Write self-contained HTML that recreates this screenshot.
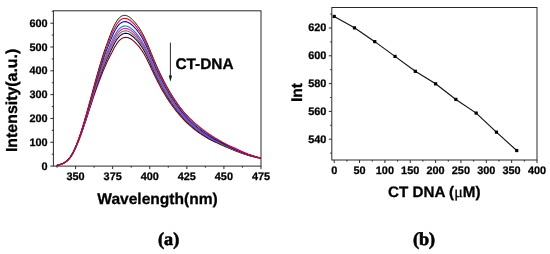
<!DOCTYPE html>
<html><head><meta charset="utf-8"><title>Fluorescence quenching by CT-DNA</title>
<style>
html,body{margin:0;padding:0;background:#fff;}
svg{display:block;will-change:transform;}
text{fill:#000;text-rendering:geometricPrecision;}
.t{font-family:"Liberation Sans",Arial,sans-serif;font-weight:bold;font-size:10.9px;stroke:#000;stroke-width:0.25px;}
.b{font-family:"Liberation Sans",Arial,sans-serif;font-weight:bold;font-size:15px;stroke:#000;stroke-width:0.3px;}
.s{font-family:"Liberation Serif","Times New Roman",serif;font-weight:bold;font-size:18.2px;stroke:#000;stroke-width:0.6px;}
</style></head>
<body>
<svg width="550" height="254" viewBox="0 0 550 254">
<rect width="550" height="254" fill="#fff"/>
<rect x="53.4" y="10.8" width="207.6" height="155.3" fill="none" stroke="#2a2a2a" stroke-width="1"/>
<path d="M50.4,166.10H53.4M51.8,154.19H53.4M50.4,142.28H53.4M51.8,130.37H53.4M50.4,118.46H53.4M51.8,106.55H53.4M50.4,94.64H53.4M51.8,82.73H53.4M50.4,70.82H53.4M51.8,58.91H53.4M50.4,47.00H53.4M51.8,35.09H53.4M50.4,23.18H53.4M51.8,11.27H53.4M57.06,166.1v1.6M75.60,166.1v3.0M94.14,166.1v1.6M112.68,166.1v3.0M131.22,166.1v1.6M149.76,166.1v3.0M168.30,166.1v1.6M186.84,166.1v3.0M205.38,166.1v1.6M223.92,166.1v3.0M242.46,166.1v1.6M261.00,166.1v3.0" stroke="#2a2a2a" stroke-width="1" fill="none"/>
<path d="M56.4,165.69 L57.4,165.39 L58.4,165.09 L59.4,164.79 L60.4,164.48 L61.4,164.13 L62.4,163.73 L63.4,163.27 L64.4,162.74 L65.4,162.11 L66.4,161.38 L67.4,160.53 L68.5,159.55 L69.5,158.42 L70.5,157.13 L71.5,155.66 L72.5,154.02 L73.5,152.20 L74.5,150.22 L75.5,148.10 L76.5,145.87 L77.5,143.51 L78.5,141.03 L79.6,138.43 L80.6,135.74 L81.6,132.95 L82.6,130.07 L83.6,127.13 L84.6,124.12 L85.7,121.06 L86.7,117.96 L87.7,114.83 L88.7,111.68 L89.7,108.52 L90.8,105.37 L91.8,102.27 L92.8,99.18 L93.8,96.13 L94.9,93.12 L95.9,90.16 L96.9,87.26 L98.0,84.42 L99.0,81.66 L100.0,78.99 L101.1,76.33 L102.1,73.65 L103.1,71.07 L104.2,68.60 L105.2,66.23 L106.2,63.95 L107.2,61.74 L108.3,59.59 L109.3,57.48 L110.3,55.41 L111.4,53.38 L112.4,51.43 L113.4,49.49 L114.4,47.55 L115.5,45.78 L116.5,44.16 L117.5,42.72 L118.5,41.45 L119.5,40.35 L120.6,39.43 L121.6,38.69 L122.6,38.12 L123.6,37.71 L124.6,37.47 L125.6,37.37 L126.6,37.42 L127.6,37.59 L128.6,37.89 L129.6,38.31 L130.6,38.83 L131.6,39.45 L132.5,40.17 L133.5,40.96 L134.5,41.83 L135.5,42.76 L136.5,43.75 L137.4,44.80 L138.4,45.93 L139.4,47.12 L140.4,48.39 L141.3,49.73 L142.3,51.16 L143.3,52.68 L144.3,54.29 L145.2,55.99 L146.2,57.79 L147.2,59.69 L148.1,61.65 L149.1,63.68 L150.1,65.74 L151.0,67.83 L152.0,69.93 L153.0,72.01 L153.9,74.07 L154.9,76.09 L155.9,78.07 L156.9,80.01 L157.8,81.92 L158.8,83.78 L159.8,85.61 L160.7,87.40 L161.7,89.15 L162.7,90.86 L163.7,92.54 L164.7,94.19 L165.6,95.80 L166.6,97.37 L167.6,98.91 L168.6,100.42 L169.6,101.89 L170.6,103.33 L171.5,104.74 L172.5,106.11 L173.5,107.46 L174.5,108.77 L175.5,110.05 L176.5,111.31 L177.5,112.53 L178.5,113.72 L179.5,114.89 L180.5,116.03 L181.5,117.14 L182.4,118.22 L183.4,119.28 L184.4,120.30 L185.4,121.31 L186.4,122.29 L187.4,123.24 L188.4,124.17 L189.4,125.08 L190.4,125.96 L191.4,126.82 L192.4,127.66 L193.4,128.48 L194.4,129.28 L195.4,130.06 L196.4,130.82 L197.4,131.56 L198.4,132.28 L199.4,132.99 L200.4,133.68 L201.4,134.35 L202.4,135.01 L203.4,135.65 L204.4,136.28 L205.4,136.90 L206.4,137.50 L207.4,138.09 L208.4,138.66 L209.4,139.23 L210.4,139.76 L211.4,140.26 L212.4,140.75 L213.4,141.23 L214.4,141.70 L215.4,142.17 L216.4,142.63 L217.4,143.09 L218.4,143.55 L219.4,144.00 L220.4,144.45 L221.4,144.89 L222.4,145.34 L223.4,145.78 L224.4,146.22 L225.4,146.65 L226.4,147.08 L227.4,147.51 L228.4,147.94 L229.4,148.36 L230.4,148.78 L231.4,149.20 L232.4,149.61 L233.4,150.01 L234.4,150.41 L235.4,150.81 L236.4,151.20 L237.4,151.59 L238.4,151.97 L239.4,152.34 L240.4,152.71 L241.4,153.07 L242.4,153.43 L243.4,153.77 L244.4,154.11 L245.4,154.44 L246.4,154.75 L247.4,155.05 L248.4,155.34 L249.4,155.63 L250.4,155.91 L251.4,156.18 L252.4,156.44 L253.4,156.70 L254.4,156.94 L255.4,157.18 L256.4,157.41 L257.4,157.62 L258.4,157.83 L259.4,158.03 L261.0,158.32" stroke="#800000" stroke-width="1.08" fill="none" stroke-linejoin="round"/>
<path d="M56.4,165.69 L57.4,165.38 L58.4,165.09 L59.4,164.78 L60.4,164.47 L61.4,164.11 L62.4,163.71 L63.4,163.25 L64.4,162.71 L65.4,162.08 L66.4,161.35 L67.4,160.49 L68.4,159.50 L69.4,158.36 L70.5,157.06 L71.5,155.58 L72.5,153.92 L73.5,152.08 L74.5,150.08 L75.5,147.94 L76.5,145.68 L77.5,143.29 L78.5,140.77 L79.5,138.13 L80.5,135.38 L81.6,132.54 L82.6,129.61 L83.6,126.60 L84.6,123.53 L85.6,120.40 L86.6,117.22 L87.7,114.01 L88.7,110.77 L89.7,107.52 L90.7,104.28 L91.7,101.06 L92.8,97.87 L93.8,94.70 L94.8,91.56 L95.8,88.48 L96.9,85.44 L97.9,82.47 L98.9,79.57 L99.9,76.76 L101.0,73.97 L102.0,71.18 L103.0,68.49 L104.0,65.90 L105.1,63.42 L106.1,61.03 L107.1,58.71 L108.2,56.45 L109.2,54.24 L110.2,52.05 L111.2,49.90 L112.3,47.84 L113.3,45.81 L114.3,43.81 L115.3,41.98 L116.3,40.32 L117.3,38.83 L118.4,37.52 L119.4,36.39 L120.4,35.43 L121.4,34.67 L122.4,34.08 L123.4,33.66 L124.4,33.41 L125.4,33.31 L126.4,33.36 L127.4,33.54 L128.4,33.85 L129.4,34.28 L130.4,34.82 L131.4,35.46 L132.4,36.19 L133.4,37.01 L134.4,37.91 L135.3,38.87 L136.3,39.89 L137.3,40.98 L138.3,42.13 L139.3,43.36 L140.2,44.67 L141.2,46.06 L142.2,47.54 L143.2,49.10 L144.1,50.76 L145.1,52.52 L146.1,54.38 L147.1,56.33 L148.0,58.36 L149.0,60.45 L150.0,62.58 L150.9,64.73 L151.9,66.90 L152.9,69.05 L153.9,71.17 L154.8,73.26 L155.8,75.30 L156.8,77.30 L157.8,79.26 L158.7,81.19 L159.7,83.07 L160.7,84.92 L161.7,86.72 L162.7,88.49 L163.6,90.23 L164.6,91.92 L165.6,93.58 L166.6,95.20 L167.6,96.79 L168.6,98.35 L169.5,99.87 L170.5,101.35 L171.5,102.80 L172.5,104.22 L173.5,105.61 L174.5,106.97 L175.5,108.29 L176.5,109.58 L177.5,110.84 L178.5,112.08 L179.5,113.28 L180.5,114.45 L181.4,115.60 L182.4,116.71 L183.4,117.80 L184.4,118.86 L185.4,119.90 L186.4,120.91 L187.4,121.89 L188.4,122.85 L189.4,123.79 L190.4,124.70 L191.4,125.59 L192.4,126.45 L193.4,127.30 L194.4,128.12 L195.4,128.93 L196.4,129.71 L197.4,130.47 L198.4,131.22 L199.4,131.95 L200.4,132.66 L201.4,133.35 L202.4,134.03 L203.4,134.70 L204.4,135.34 L205.4,135.98 L206.4,136.60 L207.4,137.21 L208.4,137.80 L209.4,138.39 L210.4,138.94 L211.4,139.46 L212.4,139.98 L213.4,140.48 L214.4,140.98 L215.4,141.47 L216.4,141.96 L217.4,142.44 L218.4,142.92 L219.4,143.39 L220.4,143.86 L221.4,144.33 L222.4,144.79 L223.4,145.25 L224.4,145.71 L225.4,146.16 L226.4,146.62 L227.4,147.06 L228.4,147.51 L229.4,147.95 L230.4,148.38 L231.4,148.81 L232.4,149.24 L233.4,149.66 L234.4,150.08 L235.4,150.49 L236.4,150.89 L237.4,151.29 L238.4,151.69 L239.4,152.07 L240.4,152.45 L241.4,152.83 L242.4,153.19 L243.4,153.55 L244.4,153.90 L245.4,154.24 L246.4,154.56 L247.4,154.87 L248.4,155.18 L249.4,155.48 L250.4,155.77 L251.4,156.05 L252.4,156.32 L253.4,156.59 L254.4,156.84 L255.4,157.09 L256.4,157.32 L257.4,157.55 L258.4,157.76 L259.4,157.96 L261.0,158.27" stroke="#000080" stroke-width="1.08" fill="none" stroke-linejoin="round"/>
<path d="M56.4,165.69 L57.4,165.38 L58.4,165.08 L59.4,164.78 L60.4,164.46 L61.4,164.10 L62.4,163.70 L63.4,163.24 L64.4,162.70 L65.4,162.06 L66.4,161.33 L67.4,160.47 L68.4,159.47 L69.4,158.32 L70.4,157.01 L71.5,155.52 L72.5,153.86 L73.5,152.01 L74.5,150.00 L75.5,147.85 L76.5,145.57 L77.5,143.15 L78.5,140.61 L79.5,137.94 L80.5,135.16 L81.5,132.29 L82.5,129.32 L83.6,126.28 L84.6,123.16 L85.6,119.99 L86.6,116.77 L87.6,113.50 L88.6,110.22 L89.6,106.91 L90.7,103.60 L91.7,100.32 L92.7,97.06 L93.7,93.81 L94.7,90.60 L95.8,87.44 L96.8,84.32 L97.8,81.27 L98.8,78.28 L99.8,75.38 L100.9,72.51 L101.9,69.65 L102.9,66.89 L103.9,64.24 L105.0,61.69 L106.0,59.23 L107.0,56.84 L108.0,54.52 L109.0,52.23 L110.1,49.97 L111.1,47.76 L112.1,45.63 L113.1,43.54 L114.1,41.50 L115.2,39.64 L116.2,37.94 L117.2,36.43 L118.2,35.09 L119.2,33.94 L120.2,32.97 L121.2,32.18 L122.2,31.59 L123.2,31.16 L124.2,30.90 L125.2,30.80 L126.2,30.85 L127.2,31.03 L128.2,31.35 L129.2,31.79 L130.2,32.34 L131.2,32.99 L132.2,33.74 L133.2,34.57 L134.2,35.48 L135.2,36.46 L136.2,37.51 L137.1,38.61 L138.1,39.79 L139.1,41.05 L140.1,42.38 L141.1,43.79 L142.1,45.30 L143.0,46.89 L144.0,48.58 L145.0,50.37 L146.0,52.27 L146.9,54.26 L147.9,56.33 L148.9,58.45 L149.9,60.63 L150.9,62.82 L151.8,65.02 L152.8,67.22 L153.8,69.38 L154.8,71.50 L155.7,73.58 L156.7,75.62 L157.7,77.62 L158.7,79.58 L159.7,81.50 L160.6,83.38 L161.6,85.23 L162.6,87.03 L163.6,88.79 L164.6,90.52 L165.6,92.21 L166.6,93.87 L167.5,95.49 L168.5,97.07 L169.5,98.62 L170.5,100.13 L171.5,101.61 L172.5,103.06 L173.5,104.47 L174.5,105.85 L175.5,107.20 L176.5,108.52 L177.5,109.80 L178.5,111.06 L179.4,112.28 L180.4,113.48 L181.4,114.64 L182.4,115.78 L183.4,116.89 L184.4,117.97 L185.4,119.03 L186.4,120.06 L187.4,121.06 L188.4,122.04 L189.4,122.99 L190.4,123.92 L191.4,124.82 L192.4,125.71 L193.4,126.57 L194.4,127.41 L195.4,128.23 L196.4,129.03 L197.4,129.80 L198.4,130.56 L199.4,131.31 L200.4,132.03 L201.4,132.74 L202.4,133.43 L203.4,134.11 L204.4,134.77 L205.4,135.41 L206.4,136.04 L207.4,136.66 L208.4,137.27 L209.4,137.86 L210.4,138.43 L211.4,138.97 L212.4,139.50 L213.4,140.02 L214.4,140.54 L215.4,141.04 L216.4,141.54 L217.4,142.04 L218.4,142.53 L219.4,143.02 L220.4,143.50 L221.4,143.98 L222.4,144.45 L223.4,144.93 L224.4,145.40 L225.4,145.86 L226.4,146.33 L227.4,146.79 L228.4,147.24 L229.4,147.69 L230.4,148.14 L231.4,148.58 L232.4,149.01 L233.4,149.44 L234.4,149.87 L235.4,150.29 L236.4,150.70 L237.4,151.11 L238.4,151.51 L239.4,151.91 L240.4,152.29 L241.4,152.67 L242.4,153.05 L243.4,153.41 L244.4,153.77 L245.4,154.12 L246.4,154.45 L247.4,154.77 L248.4,155.08 L249.4,155.39 L250.4,155.68 L251.4,155.97 L252.4,156.25 L253.4,156.52 L254.4,156.78 L255.4,157.03 L256.4,157.27 L257.4,157.50 L258.4,157.72 L259.4,157.93 L261.0,158.23" stroke="#808000" stroke-width="1.08" fill="none" stroke-linejoin="round"/>
<path d="M56.4,165.69 L57.4,165.38 L58.4,165.08 L59.4,164.77 L60.4,164.45 L61.4,164.10 L62.4,163.69 L63.4,163.23 L64.4,162.68 L65.4,162.05 L66.4,161.30 L67.4,160.44 L68.4,159.44 L69.4,158.29 L70.4,156.97 L71.4,155.47 L72.4,153.80 L73.5,151.94 L74.5,149.92 L75.5,147.76 L76.5,145.46 L77.5,143.02 L78.5,140.45 L79.5,137.76 L80.5,134.95 L81.5,132.05 L82.5,129.05 L83.5,125.96 L84.5,122.81 L85.5,119.59 L86.6,116.33 L87.6,113.02 L88.6,109.68 L89.6,106.31 L90.6,102.95 L91.6,99.61 L92.6,96.27 L93.7,92.96 L94.7,89.68 L95.7,86.44 L96.7,83.24 L97.7,80.11 L98.7,77.04 L99.8,74.05 L100.8,71.11 L101.8,68.18 L102.8,65.36 L103.8,62.64 L104.8,60.02 L105.9,57.50 L106.9,55.05 L107.9,52.65 L108.9,50.30 L109.9,47.98 L111.0,45.70 L112.0,43.50 L113.0,41.36 L114.0,39.28 L115.0,37.38 L116.0,35.66 L117.0,34.11 L118.0,32.75 L119.1,31.58 L120.1,30.59 L121.1,29.80 L122.1,29.19 L123.1,28.76 L124.1,28.49 L125.1,28.39 L126.1,28.44 L127.1,28.63 L128.1,28.95 L129.1,29.39 L130.1,29.95 L131.1,30.62 L132.1,31.38 L133.0,32.23 L134.0,33.15 L135.0,34.15 L136.0,35.21 L137.0,36.34 L138.0,37.54 L139.0,38.82 L140.0,40.17 L140.9,41.61 L141.9,43.14 L142.9,44.77 L143.9,46.49 L144.9,48.31 L145.9,50.24 L146.8,52.26 L147.8,54.37 L148.8,56.54 L149.8,58.74 L150.8,60.98 L151.7,63.22 L152.7,65.45 L153.7,67.66 L154.7,69.82 L155.7,71.94 L156.7,74.01 L157.6,76.05 L158.6,78.04 L159.6,80.00 L160.6,81.91 L161.6,83.78 L162.6,85.62 L163.6,87.42 L164.5,89.18 L165.5,90.90 L166.5,92.58 L167.5,94.23 L168.5,95.84 L169.5,97.42 L170.5,98.96 L171.5,100.46 L172.5,101.93 L173.5,103.37 L174.5,104.78 L175.5,106.15 L176.5,107.49 L177.4,108.80 L178.4,110.08 L179.4,111.33 L180.4,112.54 L181.4,113.73 L182.4,114.89 L183.4,116.02 L184.4,117.12 L185.4,118.19 L186.4,119.24 L187.4,120.26 L188.4,121.25 L189.4,122.22 L190.4,123.17 L191.4,124.09 L192.4,124.99 L193.4,125.87 L194.4,126.72 L195.4,127.55 L196.4,128.37 L197.4,129.16 L198.4,129.93 L199.4,130.69 L200.4,131.43 L201.4,132.15 L202.4,132.85 L203.4,133.54 L204.4,134.21 L205.4,134.87 L206.4,135.51 L207.4,136.14 L208.4,136.76 L209.4,137.36 L210.4,137.95 L211.4,138.50 L212.4,139.04 L213.4,139.58 L214.4,140.11 L215.4,140.57 L216.4,140.94 L217.4,141.31 L218.4,141.68 L219.4,142.05 L220.4,142.42 L221.4,142.80 L222.4,143.17 L223.4,143.56 L224.4,143.94 L225.4,144.32 L226.4,144.71 L227.4,145.10 L228.4,145.49 L229.4,145.88 L230.4,146.27 L231.4,146.66 L232.4,147.05 L233.4,147.44 L234.4,147.82 L235.4,148.26 L236.4,148.78 L237.4,149.29 L238.4,149.78 L239.4,150.27 L240.4,150.75 L241.4,151.21 L242.4,151.67 L243.4,152.11 L244.4,152.55 L245.4,152.97 L246.4,153.37 L247.4,153.76 L248.4,154.14 L249.4,154.50 L250.4,154.87 L251.4,155.26 L252.4,155.63 L253.4,155.98 L254.4,156.32 L255.4,156.65 L256.4,156.96 L257.4,157.25 L258.4,157.54 L259.4,157.80 L261.0,158.20" stroke="#ff00ff" stroke-width="1.08" fill="none" stroke-linejoin="round"/>
<path d="M56.4,165.69 L57.4,165.38 L58.4,165.07 L59.4,164.77 L60.4,164.45 L61.4,164.09 L62.4,163.68 L63.4,163.21 L64.4,162.67 L65.4,162.03 L66.4,161.28 L67.4,160.41 L68.4,159.41 L69.4,158.25 L70.4,156.93 L71.4,155.42 L72.4,153.74 L73.4,151.88 L74.4,149.85 L75.4,147.66 L76.5,145.35 L77.5,142.89 L78.5,140.30 L79.5,137.58 L80.5,134.75 L81.5,131.81 L82.5,128.77 L83.5,125.66 L84.5,122.46 L85.5,119.20 L86.5,115.89 L87.5,112.53 L88.5,109.14 L89.5,105.73 L90.6,102.31 L91.6,98.90 L92.6,95.50 L93.6,92.12 L94.6,88.76 L95.6,85.45 L96.6,82.18 L97.6,78.96 L98.7,75.81 L99.7,72.74 L100.7,69.72 L101.7,66.73 L102.7,63.84 L103.7,61.05 L104.7,58.37 L105.8,55.78 L106.8,53.27 L107.8,50.81 L108.8,48.39 L109.8,46.00 L110.8,43.65 L111.8,41.39 L112.8,39.19 L113.8,37.08 L114.9,35.15 L115.9,33.39 L116.9,31.82 L117.9,30.44 L118.9,29.24 L119.9,28.24 L120.9,27.43 L121.9,26.81 L122.9,26.37 L123.9,26.11 L124.9,26.00 L125.9,26.05 L126.9,26.24 L127.9,26.57 L128.9,27.02 L129.9,27.59 L130.9,28.27 L131.9,29.04 L132.9,29.91 L133.9,30.85 L134.9,31.86 L135.9,32.94 L136.8,34.09 L137.8,35.31 L138.8,36.61 L139.8,37.99 L140.8,39.45 L141.8,41.01 L142.8,42.66 L143.8,44.41 L144.8,46.27 L145.7,48.23 L146.7,50.29 L147.7,52.43 L148.7,54.64 L149.7,56.88 L150.7,59.16 L151.7,61.44 L152.6,63.71 L153.6,65.95 L154.6,68.15 L155.6,70.30 L156.6,72.42 L157.6,74.49 L158.6,76.52 L159.6,78.50 L160.5,80.45 L161.5,82.36 L162.5,84.22 L163.5,86.05 L164.5,87.84 L165.5,89.59 L166.5,91.31 L167.5,92.98 L168.5,94.62 L169.5,96.23 L170.5,97.79 L171.5,99.33 L172.5,100.82 L173.5,102.29 L174.4,103.72 L175.4,105.11 L176.4,106.48 L177.4,107.81 L178.4,109.11 L179.4,110.38 L180.4,111.62 L181.4,112.82 L182.4,114.00 L183.4,115.15 L184.4,116.27 L185.4,117.36 L186.4,118.43 L187.4,119.47 L188.4,120.48 L189.4,121.46 L190.4,122.43 L191.4,123.36 L192.4,124.28 L193.4,125.17 L194.4,126.04 L195.4,126.89 L196.4,127.71 L197.4,128.52 L198.4,129.31 L199.4,130.08 L200.4,130.83 L201.4,131.56 L202.4,132.28 L203.4,132.98 L204.4,133.66 L205.4,134.33 L206.4,134.98 L207.4,135.62 L208.4,136.25 L209.4,136.87 L210.4,137.46 L211.4,138.03 L212.4,138.59 L213.4,139.14 L214.4,139.69 L215.4,140.22 L216.4,140.75 L217.4,141.27 L218.4,141.79 L219.4,142.30 L220.4,142.81 L221.4,143.31 L222.4,143.81 L223.4,144.31 L224.4,144.80 L225.4,145.29 L226.4,145.77 L227.4,146.25 L228.4,146.73 L229.4,147.20 L230.4,147.67 L231.4,148.13 L232.4,148.58 L233.4,149.03 L234.4,149.47 L235.4,149.91 L236.4,150.34 L237.4,150.76 L238.4,151.18 L239.4,151.59 L240.4,151.99 L241.4,152.38 L242.4,152.77 L243.4,153.15 L244.4,153.52 L245.4,153.88 L246.4,154.22 L247.4,154.56 L248.4,154.89 L249.4,155.21 L250.4,155.52 L251.4,155.82 L252.4,156.11 L253.4,156.39 L254.4,156.66 L255.4,156.92 L256.4,157.17 L257.4,157.41 L258.4,157.63 L259.4,157.85 L261.0,158.17" stroke="#009090" stroke-width="1.08" fill="none" stroke-linejoin="round"/>
<path d="M56.4,165.68 L57.4,165.37 L58.4,165.06 L59.4,164.75 L60.4,164.42 L61.4,164.05 L62.4,163.64 L63.4,163.16 L64.4,162.60 L65.4,161.95 L66.4,161.19 L67.4,160.30 L68.4,159.27 L69.4,158.09 L70.4,156.74 L71.4,155.20 L72.4,153.48 L73.4,151.58 L74.4,149.50 L75.4,147.26 L76.4,144.86 L77.4,142.31 L78.4,139.61 L79.4,136.78 L80.4,133.82 L81.4,130.75 L82.4,127.56 L83.4,124.28 L84.4,120.91 L85.4,117.47 L86.4,113.96 L87.4,110.39 L88.4,106.78 L89.4,103.13 L90.4,99.45 L91.4,95.76 L92.4,92.07 L93.4,88.37 L94.4,84.70 L95.4,81.05 L96.4,77.44 L97.4,73.87 L98.4,70.36 L99.4,66.92 L100.4,63.55 L101.4,60.27 L102.4,57.09 L103.4,54.02 L104.4,51.05 L105.4,48.17 L106.4,45.37 L107.4,42.62 L108.4,39.91 L109.4,37.23 L110.4,34.58 L111.4,32.02 L112.4,29.59 L113.4,27.32 L114.4,25.23 L115.4,23.35 L116.4,21.66 L117.4,20.17 L118.4,18.88 L119.4,17.80 L120.4,16.93 L121.4,16.27 L122.4,15.79 L123.4,15.51 L124.4,15.39 L125.4,15.44 L126.4,15.65 L127.4,16.00 L128.4,16.49 L129.4,17.10 L130.4,17.83 L131.4,18.66 L132.4,19.59 L133.4,20.61 L134.4,21.70 L135.4,22.86 L136.4,24.10 L137.4,25.41 L138.4,26.81 L139.4,28.29 L140.4,29.87 L141.4,31.54 L142.4,33.32 L143.4,35.20 L144.4,37.20 L145.4,39.31 L146.4,41.53 L147.4,43.83 L148.4,46.20 L149.4,48.62 L150.4,51.06 L151.4,53.52 L152.4,55.96 L153.4,58.37 L154.4,60.74 L155.4,63.05 L156.4,65.33 L157.4,67.56 L158.4,69.74 L159.4,71.88 L160.4,73.97 L161.4,76.02 L162.4,78.03 L163.4,80.00 L164.4,81.92 L165.4,83.81 L166.4,85.65 L167.4,87.45 L168.4,89.22 L169.4,90.94 L170.4,92.63 L171.4,94.28 L172.4,95.89 L173.4,97.46 L174.4,99.00 L175.4,100.50 L176.4,101.97 L177.4,103.40 L178.4,104.80 L179.4,106.17 L180.4,107.50 L181.4,108.80 L182.4,110.07 L183.4,111.30 L184.4,112.51 L185.4,113.68 L186.4,114.83 L187.4,115.94 L188.4,117.03 L189.4,118.09 L190.4,119.13 L191.4,120.14 L192.4,121.12 L193.4,122.08 L194.4,123.02 L195.4,123.93 L196.4,124.82 L197.4,125.69 L198.4,126.53 L199.4,127.36 L200.4,128.17 L201.4,128.96 L202.4,129.73 L203.4,130.48 L204.4,131.22 L205.4,131.94 L206.4,132.64 L207.4,133.33 L208.4,134.00 L209.4,134.67 L210.4,135.32 L211.4,135.95 L212.4,136.58 L213.4,137.20 L214.4,137.80 L215.4,138.40 L216.4,138.99 L217.4,139.57 L218.4,140.15 L219.4,140.72 L220.4,141.28 L221.4,141.84 L222.4,142.39 L223.4,142.94 L224.4,143.48 L225.4,144.02 L226.4,144.55 L227.4,145.08 L228.4,145.60 L229.4,146.11 L230.4,146.62 L231.4,147.13 L232.4,147.62 L233.4,148.11 L234.4,148.59 L235.4,149.07 L236.4,149.53 L237.4,149.99 L238.4,150.44 L239.4,150.89 L240.4,151.32 L241.4,151.75 L242.4,152.16 L243.4,152.57 L244.4,152.97 L245.4,153.36 L246.4,153.74 L247.4,154.11 L248.4,154.47 L249.4,154.81 L250.4,155.15 L251.4,155.48 L252.4,155.80 L253.4,156.10 L254.4,156.40 L255.4,156.68 L256.4,156.95 L257.4,157.21 L258.4,157.45 L259.4,157.69 L261.0,158.03" stroke="#000000" stroke-width="0.95" fill="none" stroke-linejoin="round"/>
<path d="M56.4,165.69 L57.4,165.37 L58.4,165.07 L59.4,164.76 L60.4,164.43 L61.4,164.07 L62.4,163.67 L63.4,163.19 L64.4,162.64 L65.4,162.00 L66.4,161.24 L67.4,160.37 L68.4,159.35 L69.4,158.19 L70.4,156.85 L71.4,155.33 L72.4,153.63 L73.4,151.75 L74.4,149.70 L75.4,147.50 L76.4,145.14 L77.4,142.65 L78.4,140.01 L79.4,137.25 L80.4,134.36 L81.5,131.37 L82.5,128.27 L83.5,125.09 L84.5,121.82 L85.5,118.48 L86.5,115.09 L87.5,111.65 L88.5,108.16 L89.5,104.65 L90.5,101.12 L91.5,97.60 L92.5,94.08 L93.5,90.57 L94.5,87.08 L95.5,83.63 L96.6,80.21 L97.6,76.85 L98.6,73.55 L99.6,70.33 L100.6,67.16 L101.6,64.05 L102.6,61.04 L103.6,58.14 L104.6,55.34 L105.6,52.63 L106.6,49.99 L107.7,47.41 L108.7,44.88 L109.7,42.36 L110.7,39.90 L111.7,37.51 L112.7,35.21 L113.7,33.03 L114.7,31.04 L115.7,29.23 L116.7,27.61 L117.7,26.18 L118.7,24.95 L119.7,23.92 L120.7,23.08 L121.7,22.44 L122.7,21.99 L123.7,21.71 L124.7,21.60 L125.7,21.65 L126.7,21.85 L127.7,22.19 L128.7,22.66 L129.7,23.24 L130.7,23.94 L131.7,24.74 L132.7,25.63 L133.7,26.61 L134.7,27.65 L135.7,28.76 L136.7,29.95 L137.7,31.21 L138.7,32.55 L139.7,33.97 L140.7,35.48 L141.7,37.09 L142.7,38.79 L143.6,40.60 L144.6,42.51 L145.6,44.53 L146.6,46.66 L147.6,48.87 L148.6,51.14 L149.6,53.46 L150.6,55.80 L151.6,58.16 L152.6,60.50 L153.6,62.81 L154.5,65.08 L155.5,67.30 L156.5,69.48 L157.5,71.61 L158.5,73.71 L159.5,75.76 L160.5,77.77 L161.5,79.73 L162.5,81.66 L163.5,83.54 L164.5,85.39 L165.5,87.20 L166.5,88.96 L167.5,90.69 L168.5,92.38 L169.4,94.04 L170.4,95.65 L171.4,97.23 L172.4,98.78 L173.4,100.29 L174.4,101.76 L175.4,103.20 L176.4,104.61 L177.4,105.98 L178.4,107.32 L179.4,108.63 L180.4,109.91 L181.4,111.16 L182.4,112.37 L183.4,113.56 L184.4,114.71 L185.4,115.84 L186.4,116.94 L187.4,118.01 L188.4,119.05 L189.4,120.07 L190.4,121.06 L191.4,122.03 L192.4,122.97 L193.4,123.89 L194.4,124.79 L195.4,125.66 L196.4,126.51 L197.4,127.35 L198.4,128.16 L199.4,128.95 L200.4,129.73 L201.4,130.48 L202.4,131.22 L203.4,131.94 L204.4,132.65 L205.4,133.34 L206.4,134.01 L207.4,134.67 L208.4,135.32 L209.4,135.96 L210.4,136.57 L211.4,137.17 L212.4,137.76 L213.4,138.34 L214.4,138.91 L215.4,139.47 L216.4,140.02 L217.4,140.57 L218.4,141.11 L219.4,141.64 L220.4,142.17 L221.4,142.70 L222.4,143.22 L223.4,143.74 L224.4,144.25 L225.4,144.76 L226.4,145.27 L227.4,145.77 L228.4,146.26 L229.4,146.75 L230.4,147.23 L231.4,147.71 L232.4,148.18 L233.4,148.65 L234.4,149.11 L235.4,149.56 L236.4,150.00 L237.4,150.44 L238.4,150.87 L239.4,151.30 L240.4,151.71 L241.4,152.12 L242.4,152.52 L243.4,152.91 L244.4,153.29 L245.4,153.66 L246.4,154.02 L247.4,154.37 L248.4,154.71 L249.4,155.04 L250.4,155.37 L251.4,155.68 L252.4,155.98 L253.4,156.27 L254.4,156.55 L255.4,156.82 L256.4,157.08 L257.4,157.32 L258.4,157.56 L259.4,157.78 L261.0,158.11" stroke="#0000ff" stroke-width="1.08" fill="none" stroke-linejoin="round"/>
<path d="M56.4,165.68 L57.4,165.37 L58.4,165.06 L59.4,164.75 L60.4,164.43 L61.4,164.06 L62.4,163.65 L63.4,163.18 L64.4,162.62 L65.4,161.97 L66.4,161.22 L67.4,160.33 L68.4,159.31 L69.4,158.14 L70.4,156.79 L71.4,155.27 L72.4,153.55 L73.4,151.66 L74.4,149.60 L75.4,147.37 L76.4,145.00 L77.4,142.47 L78.4,139.81 L79.4,137.01 L80.4,134.08 L81.4,131.05 L82.4,127.90 L83.4,124.67 L84.4,121.35 L85.4,117.96 L86.4,114.50 L87.4,110.99 L88.4,107.44 L89.4,103.86 L90.5,100.26 L91.5,96.64 L92.5,93.03 L93.5,89.43 L94.5,85.84 L95.5,82.29 L96.5,78.77 L97.5,75.30 L98.5,71.90 L99.5,68.56 L100.5,65.29 L101.5,62.09 L102.5,58.99 L103.5,56.00 L104.5,53.11 L105.5,50.31 L106.5,47.59 L107.5,44.92 L108.5,42.30 L109.5,39.70 L110.5,37.14 L111.5,34.66 L112.5,32.29 L113.5,30.07 L114.6,28.03 L115.6,26.18 L116.6,24.52 L117.6,23.06 L118.6,21.80 L119.6,20.74 L120.6,19.89 L121.6,19.23 L122.6,18.77 L123.6,18.49 L124.6,18.38 L125.6,18.43 L126.6,18.63 L127.6,18.98 L128.6,19.46 L129.6,20.06 L130.6,20.77 L131.6,21.59 L132.6,22.50 L133.6,23.49 L134.6,24.56 L135.6,25.70 L136.5,26.91 L137.5,28.20 L138.5,29.57 L139.5,31.02 L140.5,32.57 L141.5,34.21 L142.5,35.95 L143.5,37.80 L144.5,39.75 L145.5,41.82 L146.5,43.99 L147.5,46.25 L148.5,48.57 L149.5,50.94 L150.5,53.34 L151.5,55.75 L152.5,58.14 L153.5,60.50 L154.5,62.82 L155.5,65.10 L156.5,67.32 L157.5,69.51 L158.5,71.65 L159.5,73.74 L160.4,75.80 L161.4,77.81 L162.4,79.78 L163.4,81.70 L164.4,83.59 L165.4,85.44 L166.4,87.24 L167.4,89.01 L168.4,90.74 L169.4,92.43 L170.4,94.08 L171.4,95.70 L172.4,97.28 L173.4,98.82 L174.4,100.33 L175.4,101.77 L176.4,103.11 L177.4,104.43 L178.4,105.72 L179.4,106.99 L180.4,108.22 L181.4,109.42 L182.4,110.60 L183.4,111.74 L184.4,112.86 L185.4,113.96 L186.4,115.03 L187.4,116.07 L188.4,117.09 L189.4,118.08 L190.4,119.05 L191.4,120.00 L192.4,120.92 L193.4,121.82 L194.4,122.70 L195.4,123.56 L196.4,124.40 L197.4,125.23 L198.4,126.03 L199.4,126.81 L200.4,127.60 L201.4,128.42 L202.4,129.22 L203.4,129.99 L204.4,130.75 L205.4,131.50 L206.4,132.22 L207.4,132.93 L208.4,133.63 L209.4,134.31 L210.4,134.98 L211.4,135.63 L212.4,136.27 L213.4,136.90 L214.4,137.52 L215.4,138.13 L216.4,138.73 L217.4,139.32 L218.4,139.90 L219.4,140.48 L220.4,141.05 L221.4,141.62 L222.4,142.18 L223.4,142.74 L224.4,143.29 L225.4,143.84 L226.4,144.38 L227.4,144.91 L228.4,145.44 L229.4,145.97 L230.4,146.48 L231.4,146.99 L232.4,147.49 L233.4,147.99 L234.4,148.48 L235.4,148.96 L236.4,149.43 L237.4,149.90 L238.4,150.35 L239.4,150.80 L240.4,151.24 L241.4,151.67 L242.4,152.09 L243.4,152.50 L244.4,152.91 L245.4,153.30 L246.4,153.68 L247.4,154.05 L248.4,154.41 L249.4,154.76 L250.4,155.10 L251.4,155.43 L252.4,155.75 L253.4,156.05 L254.4,156.35 L255.4,156.63 L256.4,156.90 L257.4,157.16 L258.4,157.41 L259.4,157.64 L261.0,157.99" stroke="#ff0000" stroke-width="1.08" fill="none" stroke-linejoin="round"/>
<text class="t" x="47.6" y="169.5" text-anchor="end">0</text>
<text class="t" x="47.6" y="145.7" text-anchor="end">100</text>
<text class="t" x="47.6" y="121.9" text-anchor="end">200</text>
<text class="t" x="47.6" y="98.1" text-anchor="end">300</text>
<text class="t" x="47.6" y="74.3" text-anchor="end">400</text>
<text class="t" x="47.6" y="50.5" text-anchor="end">500</text>
<text class="t" x="47.6" y="26.6" text-anchor="end">600</text>
<text class="t" x="75.6" y="180.3" text-anchor="middle">350</text>
<text class="t" x="112.7" y="180.3" text-anchor="middle">375</text>
<text class="t" x="149.8" y="180.3" text-anchor="middle">400</text>
<text class="t" x="186.8" y="180.3" text-anchor="middle">425</text>
<text class="t" x="223.9" y="180.3" text-anchor="middle">450</text>
<text class="t" x="261.0" y="180.3" text-anchor="middle">475</text>
<text class="b" x="157.5" y="203.6" text-anchor="middle" style="font-size:15.55px">Wavelength(nm)</text>
<text class="b" transform="translate(16.7,100.4) rotate(-90)" text-anchor="middle" style="font-size:15.9px">Intensity(a.u.)</text>
<text class="b" x="175.4" y="68.9" style="font-size:15.4px">CT-DNA</text>
<path d="M170.4,42.6V77.5" stroke="#111" stroke-width="0.9" fill="none"/>
<path d="M168.8,75.6L170.4,81.7L172.0,75.6Z" fill="#111"/>
<text class="s" x="168.6" y="244.8" text-anchor="middle">(a)</text>
<rect x="331.8" y="7.5" width="205.2" height="152.5" fill="none" stroke="#2a2a2a" stroke-width="1"/>
<path d="M330.2,153.10H331.8M328.8,139.20H331.8M330.2,125.30H331.8M328.8,111.40H331.8M330.2,97.50H331.8M328.8,83.60H331.8M330.2,69.70H331.8M328.8,55.80H331.8M330.2,41.90H331.8M328.8,28.00H331.8M330.2,14.10H331.8M334.20,160.0v3.0M346.88,160.0v1.6M359.55,160.0v3.0M372.22,160.0v1.6M384.90,160.0v3.0M397.57,160.0v1.6M410.25,160.0v3.0M422.92,160.0v1.6M435.60,160.0v3.0M448.27,160.0v1.6M460.95,160.0v3.0M473.62,160.0v1.6M486.30,160.0v3.0M498.98,160.0v1.6M511.65,160.0v3.0M524.33,160.0v1.6M537.00,160.0v3.0" stroke="#2a2a2a" stroke-width="1" fill="none"/>
<path d="M334.2,16.44 L354.5,27.86 L374.8,41.65 L395.0,56.41 L415.3,71.31 L435.6,83.84 L455.9,99.44 L476.2,113.08 L496.4,132.16 L516.7,150.54" stroke="#111" stroke-width="1.15" fill="none"/>
<rect x="332.60" y="14.84" width="3.2" height="3.2" fill="#000"/>
<rect x="352.88" y="26.26" width="3.2" height="3.2" fill="#000"/>
<rect x="373.16" y="40.05" width="3.2" height="3.2" fill="#000"/>
<rect x="393.44" y="54.81" width="3.2" height="3.2" fill="#000"/>
<rect x="413.72" y="69.71" width="3.2" height="3.2" fill="#000"/>
<rect x="434.00" y="82.24" width="3.2" height="3.2" fill="#000"/>
<rect x="454.28" y="97.84" width="3.2" height="3.2" fill="#000"/>
<rect x="474.56" y="111.48" width="3.2" height="3.2" fill="#000"/>
<rect x="494.84" y="130.56" width="3.2" height="3.2" fill="#000"/>
<rect x="515.12" y="148.94" width="3.2" height="3.2" fill="#000"/>
<text class="t" x="326.4" y="142.6" text-anchor="end">540</text>
<text class="t" x="326.4" y="114.8" text-anchor="end">560</text>
<text class="t" x="326.4" y="87.0" text-anchor="end">580</text>
<text class="t" x="326.4" y="59.2" text-anchor="end">600</text>
<text class="t" x="326.4" y="31.4" text-anchor="end">620</text>
<text class="t" x="334.2" y="173.9" text-anchor="middle">0</text>
<text class="t" x="359.6" y="173.9" text-anchor="middle">50</text>
<text class="t" x="384.9" y="173.9" text-anchor="middle">100</text>
<text class="t" x="410.2" y="173.9" text-anchor="middle">150</text>
<text class="t" x="435.6" y="173.9" text-anchor="middle">200</text>
<text class="t" x="460.9" y="173.9" text-anchor="middle">250</text>
<text class="t" x="486.3" y="173.9" text-anchor="middle">300</text>
<text class="t" x="511.6" y="173.9" text-anchor="middle">350</text>
<text class="t" x="537.0" y="173.9" text-anchor="middle">400</text>
<text class="b" transform="translate(301.7,92.5) rotate(-90)" text-anchor="middle" style="font-size:15.5px">Int</text>
<text class="b" x="388.1" y="196.6" style="font-size:15.2px">CT DNA (<tspan style="font-family:'Liberation Serif','DejaVu Serif',serif;font-weight:normal;font-size:16px">μ</tspan>M)</text>
<text class="s" x="424" y="244.8" text-anchor="middle">(b)</text>
</svg>
</body></html>
